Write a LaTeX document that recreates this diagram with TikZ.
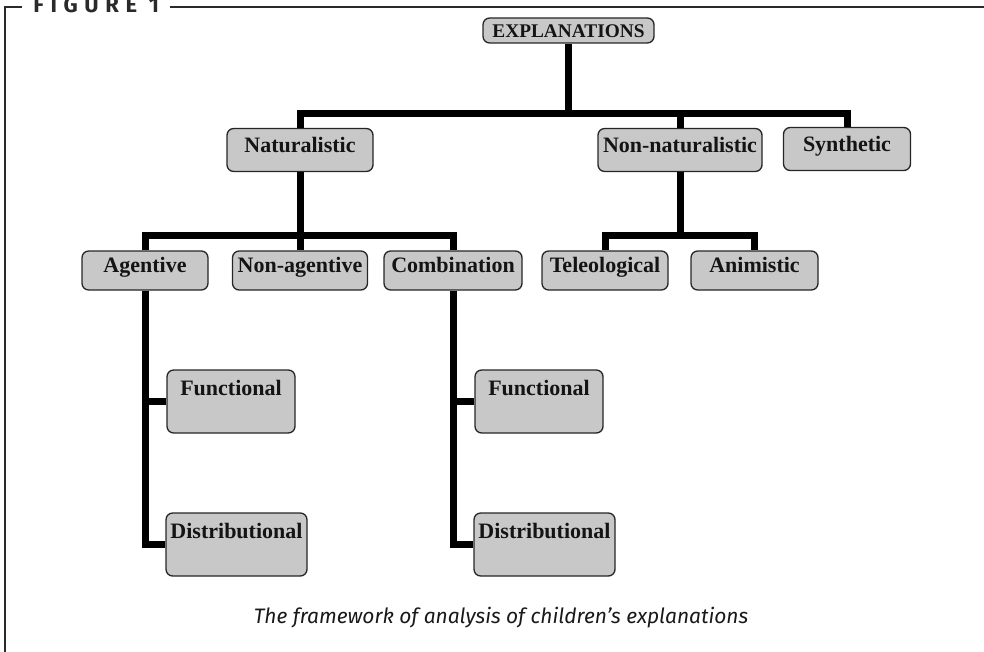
\documentclass[tikz,border=0pt]{standalone}
\usepackage{fontspec}
\setmainfont{Liberation Serif}
\newfontfamily\capfont{Fira Sans}
\newfontfamily\figfont[LetterSpace=30]{Fira Sans}
\definecolor{boxgray}{HTML}{C8C8C8}
\definecolor{framegray}{HTML}{2A2A2A}
\tikzset{
  box/.style={draw=black!85, line width=1pt, fill=boxgray, rounded corners=5pt,
    inner sep=0pt, text=black!92, font=\fontsize{16.5}{18}\selectfont\bfseries,
    text height=11pt, text depth=7.5pt},
  tallbox/.style={box, text height=18.75pt, text depth=28.5pt},
  conn/.style={line width=5.25pt, black, line join=miter},
  frame/.style={line width=1.5pt, framegray}
}
\begin{document}
\begin{tikzpicture}[x=0.75pt,y=-0.75pt]
\useasboundingbox (0,0) rectangle (984,652);
% frame
\draw[frame] (22,7) -- (5,7) -- (5,652);
\draw[frame] (170,7) -- (984,7);
\node[anchor=base west, inner sep=0pt, text=framegray] (fig) at (33,13)
  {\figfont\bfseries\fontsize{16.5}{18}\selectfont FIGURE 1};
% boxes
\node[box, minimum width=128.25pt, minimum height=18.75pt, text height=10.5pt, text depth=0pt,
  font=\fontsize{14.5}{16}\selectfont\bfseries] (expl) at (568.5,30.5) {EXPLANATIONS};
\node[box, minimum width=109.5pt, minimum height=32.25pt] (nat) at (300,150) {Naturalistic};
\node[box, minimum width=123pt, minimum height=32.25pt] (nonnat) at (680,150) {Non-naturalistic};
\node[box, minimum width=95.25pt, minimum height=32.25pt] (synth) at (847,149) {Synthetic};
\node[box, minimum width=94.5pt, minimum height=29.25pt] (agent) at (145,270.5) {Agentive};
\node[box, minimum width=101.25pt, minimum height=29.25pt] (nonag) at (300,270.5) {Non-agentive};
\node[box, minimum width=103.5pt, minimum height=29.25pt] (comb) at (453,270.5) {Combination};
\node[box, minimum width=94.5pt, minimum height=29.25pt] (tele) at (605,270.5) {Teleological};
\node[box, minimum width=95.25pt, minimum height=29.25pt] (anim) at (754.5,270.5) {Animistic};
\node[tallbox, minimum width=96pt] (funL) at (231,401.5) {Functional};
\node[tallbox, minimum width=105.75pt] (distL) at (236.5,544.5) {Distributional};
\node[tallbox, minimum width=96pt] (funR) at (539,401.5) {Functional};
\node[tallbox, minimum width=105.75pt] (distR) at (544.5,544.5) {Distributional};
% connectors
\coordinate (j1) at (568.5,114);
\coordinate (j2) at (300,236);
\coordinate (j3) at (680,236);
\draw[conn] (expl.south) -- (j1);
\draw[conn] (nat.north) |- (j1) -| (synth.north);
\draw[conn] (nonnat.north) -- (nonnat.north |- j1);
\draw[conn] (nat.south) -- (j2);
\draw[conn] (agent.north) |- (j2) -| (comb.north);
\draw[conn] (j2) -- (nonag.north);
\draw[conn] (nonnat.south) -- (j3);
\draw[conn] (tele.north) |- (j3) -| (anim.north);
\draw[conn] (agent.south) |- (distL.west);
\draw[conn] (funL.west) -- (funL.west -| agent.south);
\draw[conn] (comb.south) |- (distR.west);
\draw[conn] (funR.west) -- (funR.west -| comb.south);
% caption
\node[inner sep=0pt, text=black!90] (cap) at (501,618)
  {\capfont\itshape\fontsize{15.7}{18}\selectfont The framework of analysis of children’s explanations};
\end{tikzpicture}
\end{document}
